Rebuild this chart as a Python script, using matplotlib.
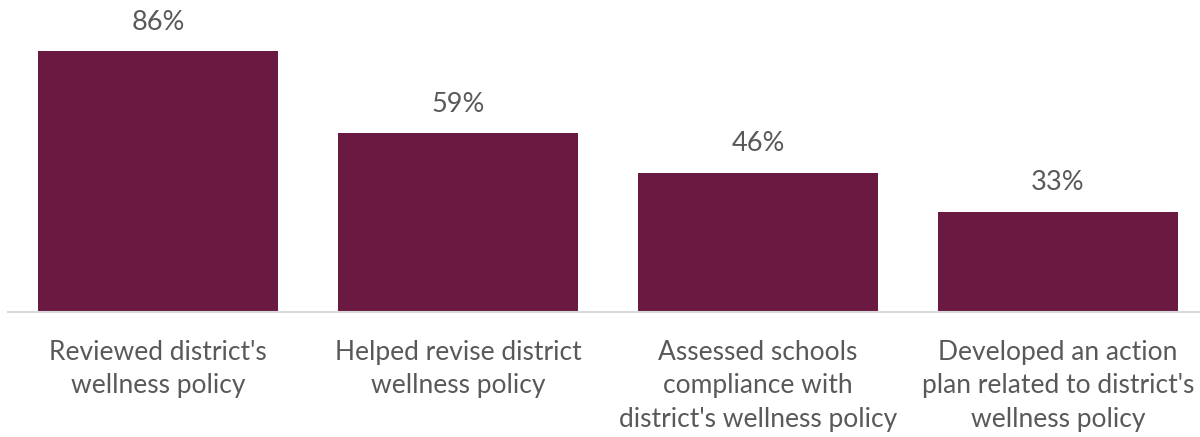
import matplotlib
matplotlib.use("Agg")
import matplotlib.pyplot as plt

# Share of respondents by wellness-policy activity
categories = [
    "Reviewed district's\nwellness policy",
    "Helped revise district\nwellness policy",
    "Assessed schools\ncompliance with\ndistrict's wellness policy",
    "Developed an action\nplan related to district's\nwellness policy",
]
values = [86, 59, 46, 33]

BAR_COLOR = "#6A1A41"
TEXT_COLOR = "#595959"

plt.rcParams["font.family"] = ["Lato", "DejaVu Sans"]

fig = plt.figure(figsize=(12, 4.37), dpi=100)
ax = fig.add_axes([8 / 1200, 125 / 437, 1.0, 312 / 437])

x = list(range(len(values)))
bars = ax.bar(x, values, width=0.8, color=BAR_COLOR, zorder=2)

for b, v in zip(bars, values):
    ax.annotate(f"{v}%", (b.get_x() + b.get_width() / 2, v),
                xytext=(0, 12), textcoords="offset points",
                ha="center", va="bottom", fontsize=19.5, color=TEXT_COLOR)

ax.set_xlim(-0.5, 3.5)
ax.set_ylim(0, 103)
ax.set_yticks([])
ax.set_xticks(x)
ax.set_xticklabels(categories, fontsize=19, color=TEXT_COLOR, linespacing=1.42)
ax.tick_params(axis="x", length=0, pad=20)

for side in ("top", "right", "left"):
    ax.spines[side].set_visible(False)
ax.spines["bottom"].set_color("#D9D9D9")
ax.spines["bottom"].set_linewidth(1.5)

fig.savefig("out.png", dpi=100)
